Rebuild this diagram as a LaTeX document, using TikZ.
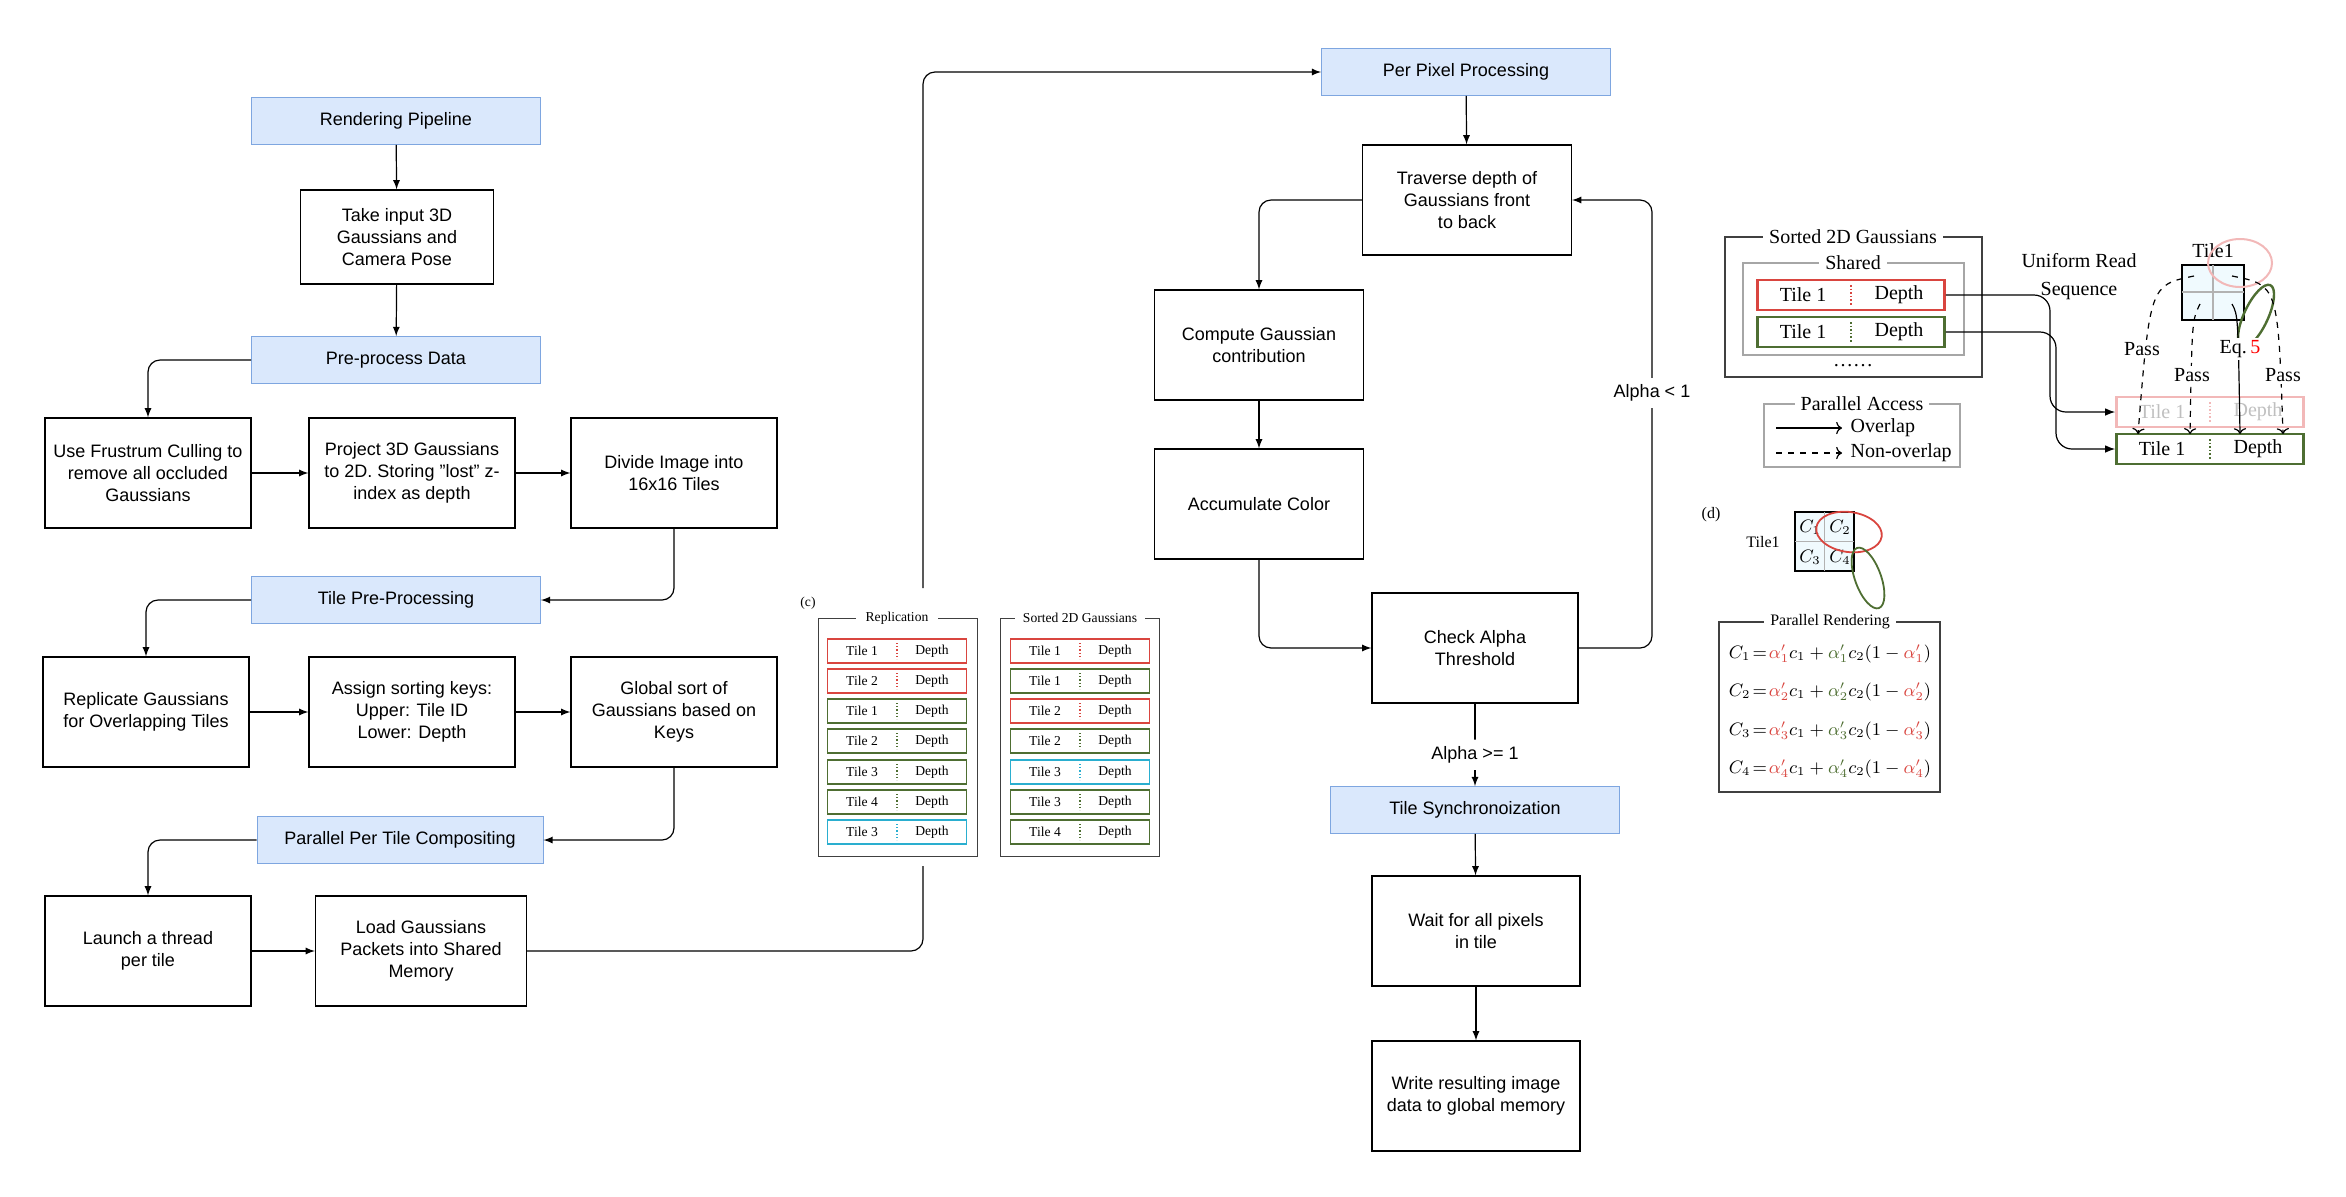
\documentclass[tikz,border=0pt]{standalone}
\usepackage{fontspec}
\setmainfont{Liberation Sans}
\newfontfamily\serf{Liberation Serif}
\usepackage{amsmath}
\usetikzlibrary{shapes,arrows}
\usetikzlibrary{positioning}
\usetikzlibrary{arrows.meta}

\definecolor{hdrfill}{HTML}{DAE8FC}
\definecolor{hdrline}{HTML}{7EA6E0}
\definecolor{tred}{HTML}{D9453F}
\definecolor{tgreen}{HTML}{4E6E32}
\definecolor{tcyan}{HTML}{2AAECF}
\definecolor{tpale}{HTML}{F2B8B8}

\tikzset{
  box/.style={draw, line width=0.6pt, minimum width=103pt, minimum height=55pt,
    align=center, font=\fontsize{9}{11}\selectfont},
  hdr/.style={draw=hdrline, fill=hdrfill, minimum width=144.5pt, minimum height=23.5pt,
    font=\fontsize{9}{11}\selectfont},
  conn/.style={-latex, line width=0.6pt, rounded corners=6pt},
  frame/.style={draw=black!75, line width=0.5pt},
  gframe/.style={draw=black!35, line width=0.6pt},
  ftitle/.style={fill=white, inner xsep=3pt, inner ysep=1pt},
  crow/.style={line width=0.9pt, minimum width=69.5pt, minimum height=12pt},
  brow/.style={line width=1.3pt, minimum width=93.5pt, minimum height=15pt},
  ctxt/.style={font=\serf\fontsize{6.8}{8}\selectfont, inner sep=0pt},
  btxt/.style={font=\serf\fontsize{10}{12}\selectfont, inner sep=0pt},
  plbl/.style={fill=white, inner sep=1pt, font=\serf\fontsize{10}{12}\selectfont},
}

% small row of panel (c): name, x, y, colour, tile
\newcommand{\crow}[5]{%
  \node[crow, draw=#4] (#1) at (#2,#3) {};
  \node[ctxt] (#1l) at ([xshift=-17.5pt]#1.center) {#5};
  \node[ctxt] (#1r) at ([xshift=17.5pt]#1.center) {Depth};
  \draw[#4, densely dotted, line width=0.6pt] ([yshift=4pt]#1.center) -- ([yshift=-4pt]#1.center);
}
% big row of the top right panel
\newcommand{\brow}[5]{%
  \node[brow, draw=#4] (#1) at (#2,#3) {};
  \node[btxt, text=#5] (#1l) at ([xshift=-24pt]#1.center) {Tile 1};
  \node[btxt, text=#5] (#1r) at ([xshift=24pt]#1.center) {Depth};
  \draw[#4, densely dotted, line width=0.8pt] ([yshift=5pt]#1.center) -- ([yshift=-5pt]#1.center);
}

\begin{document}
\begin{tikzpicture}[x=0.5pt,y=-0.5pt]
  \useasboundingbox (0,0) rectangle (2346,1196);

  % left column
  \node[hdr] (rp) at (396,121) {Rendering Pipeline};
  \node[box, minimum width=96.5pt, minimum height=47pt] (ti) at (397,237) {Take input 3D\\Gaussians and\\Camera Pose};
  \node[hdr] (pp) at (396,360) {Pre-process Data};
  \node[box] (fc) at (148,473) {Use Frustrum Culling to\\remove all occluded\\Gaussians};
  \node[box] (pj) at (412,473) {Project 3D Gaussians\\to 2D. Storing "lost" z-\\index as depth};
  \node[box] (dv) at (674,473) {Divide Image into\\16x16 Tiles};
  \node[hdr] (tp) at (396,600) {Tile Pre-Processing};
  \node[box] (rg) at (146,712) {Replicate Gaussians\\for Overlapping Tiles};
  \node[box] (sk) at (412,712) {Assign sorting keys:\\Upper: Tile ID\\Lower: Depth};
  \node[box] (gs) at (674,712) {Global sort of\\Gaussians based on\\Keys};
  \node[hdr, minimum width=143pt] (pt) at (400,840) {Parallel Per Tile Compositing};
  \node[box] (lt) at (148,951) {Launch a thread\\per tile};
  \node[box, minimum width=105.5pt] (lg) at (421,951) {Load Gaussians\\Packets into Shared\\Memory};

  \draw[conn] (rp) -- (ti);
  \draw[conn] (ti) -- (pp);
  \draw[conn] (pp.west) -| (fc.north);
  \draw[conn] (fc) -- (pj);
  \draw[conn] (pj) -- (dv);
  \draw[conn] (dv.south) |- (tp.east);
  \draw[conn] (tp.west) -| (rg.north);
  \draw[conn] (rg) -- (sk);
  \draw[conn] (sk) -- (gs);
  \draw[conn] (gs.south) |- (pt.east);
  \draw[conn] (pt.west) -| (lt.north);
  \draw[conn] (lt) -- (lg);

  % panel (c)
  \node[font=\serf\fontsize{6.8}{8}\selectfont] (clbl) at (808,603) {(c)};
  \draw[frame] (818,618) rectangle (977,856);
  \node[ftitle, ctxt, inner xsep=5pt] (crep) at (897,618) {Replication};
  \draw[frame] (1000,618) rectangle (1159,856);
  \node[ftitle, ctxt, inner xsep=4pt] (csort) at (1080,618) {Sorted 2D Gaussians};
  \crow{ra}{897}{651}{tred}{Tile 1}
  \crow{rb}{897}{681}{tred}{Tile 2}
  \crow{rc}{897}{711}{tgreen}{Tile 1}
  \crow{rd}{897}{741}{tgreen}{Tile 2}
  \crow{re}{897}{772}{tgreen}{Tile 3}
  \crow{rf}{897}{802}{tgreen}{Tile 4}
  \crow{rg2}{897}{832}{tcyan}{Tile 3}
  \crow{sa}{1080}{651}{tred}{Tile 1}
  \crow{sb}{1080}{681}{tgreen}{Tile 1}
  \crow{sc}{1080}{711}{tred}{Tile 2}
  \crow{sd}{1080}{741}{tgreen}{Tile 2}
  \crow{se}{1080}{772}{tcyan}{Tile 3}
  \crow{sf}{1080}{802}{tgreen}{Tile 3}
  \crow{sg}{1080}{832}{tgreen}{Tile 4}
  \coordinate (cin) at (923,866);
  \coordinate (cout) at (923,588);

  % middle column
  \node[hdr] (ppp) at (1466,72) {Per Pixel Processing};
  \node[box, minimum width=104.5pt] (tr) at (1467,200) {Traverse depth of\\Gaussians front\\to back};
  \node[box, minimum width=104.5pt] (cg) at (1259,345) {Compute Gaussian\\contribution};
  \node[box, minimum width=104.5pt] (ac) at (1259,504) {Accumulate Color};
  \node[box] (ca) at (1475,648) {Check Alpha\\Threshold};
  \node[hdr] (ts) at (1475,810) {Tile Synchronoization};
  \node[box, minimum width=104pt] (wt) at (1476,931) {Wait for all pixels\\in tile};
  \node[box, minimum width=104pt] (wr) at (1476,1096) {Write resulting image\\data to global memory};
  \coordinate (lp) at (1652,648);

  \draw[line width=0.6pt, rounded corners=6pt] (lg.east) -| (cin);
  \draw[conn] (cout) |- (ppp.west);
  \draw[conn] (ppp) -- (tr);
  \draw[conn] (tr.west) -| (cg.north);
  \draw[conn] (cg) -- (ac);
  \draw[conn] (ac.south) |- (ca.west);
  \draw[conn] (ca.east) -- (lp) |- (tr.east);
  \node[fill=white, font=\fontsize{9}{11}\selectfont] (alt) at (1652,393) {Alpha < 1};
  \draw[conn] (ca) -- (ts) node[pos=0.62, fill=white, font=\fontsize{9}{11}\selectfont] (age) {Alpha >= 1};
  \draw[conn] (ts) -- (wt);
  \draw[conn] (wt) -- (wr);

  % top right panel
  \draw[frame, line width=0.7pt] (1725,237) rectangle (1982,377);
  \node[ftitle, btxt, inner xsep=3pt] (srt) at (1853,237) {Sorted 2D Gaussians};
  \draw[gframe] (1743,263) rectangle (1964,355);
  \node[ftitle, btxt, inner xsep=3pt] (shd) at (1853,263) {Shared};
  \brow{ua}{1851}{295}{tred}{black}
  \brow{ub}{1851}{332}{tgreen}{black}
  \node[btxt] (dots) at (1853,366) {\dots\dots};
  \draw[gframe] (1764,404) rectangle (1960,467);
  \node[ftitle, btxt, inner xsep=3pt] (pac) at (1862,404) {Parallel Access};
  \coordinate (ova) at (1776,428);
  \coordinate (ovb) at (1842,428);
  \coordinate (noa) at (1776,453);
  \coordinate (nob) at (1842,453);
  \draw[->, line width=0.6pt] (ova) -- (ovb) node[right, btxt, inner xsep=4pt] (ovt) {Overlap};
  \draw[->, dashed, line width=0.6pt] (noa) -- (nob) node[right, btxt, inner xsep=4pt] (not) {Non-overlap};
  \node[btxt, align=center] (urs) at (2079,277) {Uniform Read\\[2pt]Sequence};

  \node[btxt] (tl1) at (2213,251) {Tile1};
  \draw[fill=cyan!6, line width=1.3pt] (2182,265) rectangle (2244,320);
  \draw[black!30, line width=0.8pt] (2213,265) -- (2213,320) (2182,292) -- (2244,292);
  \draw[tpale, line width=1pt] (2240,263) ellipse [x radius=16pt, y radius=12pt];
  \draw[tgreen, line width=1.2pt, rotate around={-25:(2256,316)}] (2256,316) ellipse [x radius=6pt, y radius=17pt];
  \brow{fa}{2210}{412}{tpale}{black!25}
  \brow{fb}{2210}{449}{tgreen}{black}
  \coordinate (p1a) at (2194,276);
  \coordinate (p2a) at (2200,304);
  \coordinate (p3a) at (2232,304);
  \coordinate (p4a) at (2232,276);
  \draw[->, dashed, line width=0.6pt] (p1a) .. controls (2150,285) .. (2138,434);
  \draw[->, dashed, line width=0.6pt] (p2a) .. controls (2192,320) .. (2190,434);
  \draw[->, line width=0.6pt] (p3a) .. controls (2238,315) .. (2240,434);
  \draw[->, dashed, line width=0.6pt] (p4a) .. controls (2278,285) .. (2283,434);
  \node[plbl] (pa1) at (2142,349) {Pass};
  \node[plbl] (pa2) at (2192,375) {Pass};
  \node[plbl] (eq5) at (2240,349) {Eq.\,\textcolor{red}{5}};
  \node[plbl] (pa4) at (2283,375) {Pass};
  \coordinate (ja) at (2050,295);
  \coordinate (jb) at (2056,332);
  \draw[-{Latex[length=5pt]}, line width=0.6pt, rounded corners=8pt] (ua.east) -- (ja) |- (fa.west);
  \draw[-{Latex[length=5pt]}, line width=0.6pt, rounded corners=8pt] (ub.east) -- (jb) |- (fb.west);

  % panel (d)
  \node[font=\serf\fontsize{8}{10}\selectfont] (dlbl) at (1711,515) {(d)};
  \node[font=\serf\fontsize{8}{10}\selectfont] (dtl) at (1763,542) {Tile1};
  \draw[fill=cyan!6, line width=1.2pt] (1795,512) rectangle (1854,571);
  \draw[black!30, line width=0.6pt] (1824.5,512) -- (1824.5,571) (1795,541.5) -- (1854,541.5);
  \node[inner sep=0pt, font=\fontsize{9}{10}\selectfont] (c1) at (1810,527) {$C_1$};
  \node[inner sep=0pt, font=\fontsize{9}{10}\selectfont] (c2) at (1840,527) {$C_2$};
  \node[inner sep=0pt, font=\fontsize{9}{10}\selectfont] (c3) at (1810,557) {$C_3$};
  \node[inner sep=0pt, font=\fontsize{9}{10}\selectfont] (c4) at (1840,557) {$C_4$};
  \draw[tred, line width=0.9pt, rotate around={-8:(1849,532)}] (1849,532) ellipse [x radius=16.5pt, y radius=10pt];
  \draw[tgreen, line width=0.9pt, rotate around={20:(1868,578)}] (1868,578) ellipse [x radius=6.5pt, y radius=16pt];
  \draw[frame, line width=0.7pt] (1719,622) rectangle (1940,792);
  \node[ftitle, font=\serf\fontsize{8}{10}\selectfont] (prt) at (1830,622) {Parallel Rendering};
  \foreach \i/\yy in {1/654,2/692,3/731,4/769}
    \node[font=\fontsize{9}{10}\selectfont] (eq\i) at (1830,\yy)
      {$C_\i\!=\!\textcolor{tred}{\alpha'_\i}c_1+\textcolor{tgreen}{\alpha'_\i}c_2(1-\textcolor{tred}{\alpha'_\i})$};
\end{tikzpicture}
\end{document}
